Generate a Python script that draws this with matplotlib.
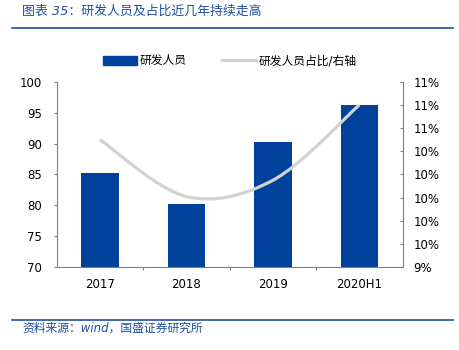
import numpy as np
import matplotlib
matplotlib.use("Agg")
import matplotlib.pyplot as plt
from matplotlib.path import Path
from matplotlib.patches import PathPatch, Patch
from matplotlib.lines import Line2D
from matplotlib.ticker import FixedLocator, FuncFormatter

plt.rcParams['font.family'] = ['DejaVu Sans', 'Noto Sans CJK SC']

# data
years = ['2017', '2018', '2019', '2020H1']
staff = [85.2, 80.2, 90.2, 96.2]          # 研发人员
share = [10.5, 10.01, 10.15, 10.8]        # 研发人员占比 (%)

blue = '#00419b'
grey_line = '#d2d2d2'
axis_grey = '#808080'
title_blue = '#1f4e9c'

fig = plt.figure(figsize=(4.59, 3.5), dpi=100)
ax = fig.add_axes([0.1235, 0.2363, 0.7535, 0.5303])
x = np.arange(len(years))
ax.bar(x, staff, width=0.435, color=blue, zorder=2)
ax.set_xlim(-0.5, len(years) - 0.5)
ax.set_ylim(70, 100)
ax.set_yticks(np.arange(70, 101, 5))
ax.set_xticks(x)
ax.set_xticklabels(years)
ax.xaxis.set_minor_locator(FixedLocator(x[:-1] + 0.5))
ax.tick_params(axis='x', which='major', length=0, pad=8, labelsize=8.5)
ax.tick_params(axis='x', which='minor', length=2.5, color=axis_grey, width=0.8)
ax.tick_params(axis='y', length=2.5, color=axis_grey, width=0.8, labelsize=8.5, pad=8)
for s in ['top', 'right']:
    ax.spines[s].set_visible(False)
for s in ['left', 'bottom']:
    ax.spines[s].set_color(axis_grey)
    ax.spines[s].set_linewidth(0.8)

ax2 = ax.twinx()
ax2.set_ylim(9.4, 11.0)
ax2.set_yticks(np.linspace(9.4, 11.0, 9))
ax2.yaxis.set_major_formatter(FuncFormatter(lambda v, p: f"{int(np.floor(v + 0.5 + 1e-9))}%"))
ax2.tick_params(axis='y', direction='in', length=2.5, color=axis_grey, width=0.8,
                labelsize=8.5, pad=8)
for s in ['top', 'left', 'bottom']:
    ax2.spines[s].set_visible(False)
ax2.spines['right'].set_color(axis_grey)
ax2.spines['right'].set_linewidth(0.8)

# smoothed line (excel-style bezier)
pts = np.column_stack([x, share]).astype(float)
ext = np.vstack([pts[0], pts, pts[-1]])
verts = [tuple(pts[0])]
codes = [Path.MOVETO]
for i in range(len(pts) - 1):
    p0, p1, p2, p3 = ext[i], ext[i + 1], ext[i + 2], ext[i + 3]
    c1 = p1 + (p2 - p0) / 6
    c2 = p2 - (p3 - p1) / 6
    verts += [tuple(c1), tuple(c2), tuple(p2)]
    codes += [Path.CURVE4] * 3
ax2.add_patch(PathPatch(Path(verts, codes), fill=False, edgecolor=grey_line,
                        lw=2.3, capstyle='butt', zorder=3))

# legend
handles = [Patch(color=blue), Line2D([], [], color=grey_line, lw=2.3)]
fig.legend(handles, ['研发人员', '研发人员占比/右轴'], ncol=2, frameon=False,
           loc='center', bbox_to_anchor=(0.5, 0.826), fontsize=8.5,
           handlelength=2.9, handleheight=0.8, handletextpad=0.2, columnspacing=3.0)

# header / footer
fig.text(22 / 459, 1 - 11 / 350, '图表 35：研发人员及占比近几年持续走高', color=title_blue,
         fontsize=9.3, style='italic', va='center', ha='left')
fig.add_artist(Line2D([12 / 459, 453 / 459], [1 - 28.3 / 350] * 2, color=title_blue, lw=1.2))
fig.add_artist(Line2D([12 / 459, 453 / 459], [1 - 319.5 / 350] * 2, color=title_blue, lw=1.2))
fig.text(22 / 459, 1 - 328 / 350, '资料来源：wind，国盛证券研究所', color=title_blue,
         fontsize=8.5, style='italic', va='center', ha='left')

fig.savefig('out.png', dpi=100)
